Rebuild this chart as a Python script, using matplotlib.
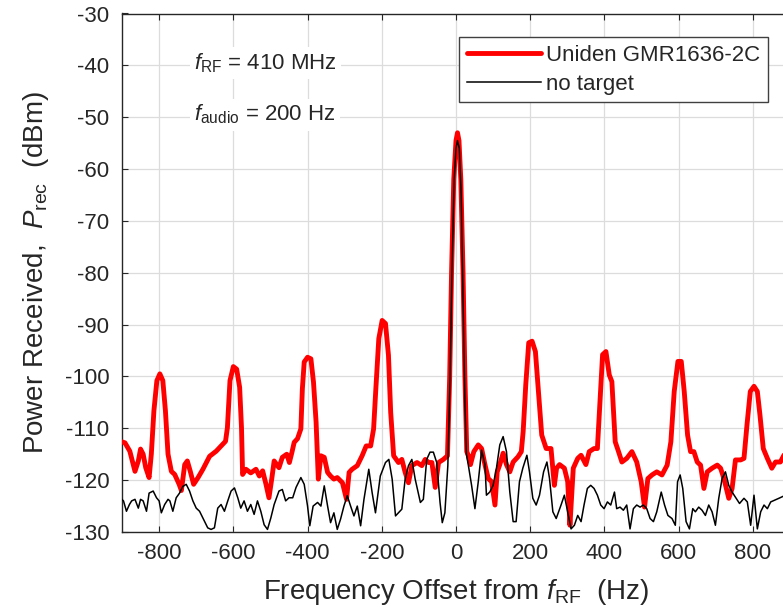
import matplotlib
matplotlib.use("Agg")
import matplotlib.pyplot as plt

plt.rcParams['font.family'] = ['Liberation Sans', 'DejaVu Sans']
plt.rcParams['mathtext.fontset'] = 'custom'
plt.rcParams['mathtext.rm'] = 'Liberation Sans'
plt.rcParams['mathtext.it'] = 'Liberation Sans:italic'
plt.rcParams['axes.unicode_minus'] = False

# Uniden GMR1636-2C (red)
red_freq = [-905, -892, -879, -865, -856, -850, -843, -836, -827, -821, -814, -806, -798, -790, -783,
            -776, -767, -758, -746, -740, -731, -724, -716, -707, -695, -682, -664, -646, -633, -621,
            -616, -609, -600, -591, -583, -578, -575, -566, -553, -539, -530, -521, -512, -504, -496,
            -490, -477, -468, -456, -449, -442, -436, -427, -418, -414, -409, -400, -391, -384, -377,
            -371, -364, -355, -346, -338, -329, -320, -306, -295, -288, -280, -266, -253, -242, -230,
            -222, -216, -208, -199, -190, -182, -176, -168, -155, -146, -137, -128, -119, -105, -92,
            -83, -74, -65, -56, -47, -34, -23, -17, -12, -6, 0, 4, 8, 13, 19,
            24, 29, 33, 39, 48, 60, 69, 78, 87, 96, 105, 111, 118, 127, 136,
            145, 154, 167, 176, 181, 188, 196, 205, 214, 222, 231, 243, 256, 265, 271,
            279, 292, 301, 307, 316, 328, 337, 350, 359, 372, 381, 387, 395, 404, 413,
            420, 429, 438, 447, 460, 474, 487, 499, 508, 517, 528, 541, 555, 569, 579,
            588, 598, 607, 615, 624, 632, 641, 650, 659, 668, 677, 690, 704, 713, 722,
            735, 744, 753, 767, 776, 784, 793, 803, 812, 819, 828, 839, 851, 861, 874,
            885, 900]
red_power = [-112.5, -112.8, -114.4, -118.3, -116.3, -114.0, -115.0, -117.6, -119.5, -115.0, -106.6, -100.8, -99.5, -100.8, -106.6,
             -115.0, -118.3, -118.9, -120.8, -122.0, -117.0, -116.3, -118.3, -120.8, -119.5, -117.9, -115.4, -114.4, -113.4, -112.5,
             -109.9, -100.8, -98.1, -98.6, -102.1, -109.9, -118.9, -117.9, -118.6, -117.9, -119.2, -118.2, -120.8, -123.4, -119.5,
             -116.3, -117.6, -115.6, -115.0, -116.6, -114.6, -112.7, -112.0, -110.1, -102.4, -97.2, -96.3, -96.6, -101.1, -108.8,
             -119.8, -115.3, -115.6, -118.5, -119.2, -119.8, -119.5, -120.5, -123.7, -118.5, -117.9, -117.2, -115.3, -113.4, -113.4,
             -110.1, -102.4, -92.7, -89.2, -89.8, -95.9, -106.9, -115.3, -116.6, -116.0, -118.5, -120.5, -117.2, -116.6, -117.2,
             -116.0, -116.6, -116.6, -121.4, -116.6, -116.0, -115.3, -100.0, -80.0, -62.0, -54.5, -53.0, -54.5, -62.0, -80.0,
             -100.0, -114.5, -115.2, -117.0, -114.5, -113.2, -113.9, -117.0, -119.7, -120.3, -124.8, -118.4, -117.0, -114.8, -117.0,
             -118.4, -116.5, -115.5, -114.5, -110.6, -101.6, -93.5, -93.2, -95.2, -102.9, -111.3, -113.9, -113.9, -121.0, -117.7,
             -117.0, -117.7, -120.3, -128.7, -117.7, -115.8, -115.2, -117.0, -114.5, -113.9, -113.9, -106.1, -95.8, -95.2, -99.7,
             -101.0, -112.6, -114.5, -116.5, -115.8, -114.5, -116.5, -120.3, -125.2, -119.7, -119.0, -118.4, -119.0, -117.1, -112.6,
             -102.9, -97.1, -97.1, -102.9, -111.3, -114.5, -114.5, -116.5, -117.1, -121.6, -118.4, -117.7, -117.1, -117.7, -119.7,
             -123.5, -121.6, -116.1, -116.1, -115.8, -109.4, -102.9, -101.9, -102.9, -107.4, -113.9, -115.8, -117.7, -116.5, -116.5,
             -115.0, -114.0]

# no target (black)
noise_freq = [-905, -896, -888, -880, -874, -865, -856, -850, -843, -834, -827, -816, -807, -800, -794,
              -785, -776, -771, -763, -754, -745, -736, -727, -718, -709, -700, -691, -678, -669, -660,
              -651, -642, -633, -624, -615, -606, -597, -588, -580, -571, -562, -553, -544, -535, -526,
              -517, -508, -499, -490, -477, -468, -459, -450, -440, -431, -418, -409, -400, -394, -385,
              -373, -364, -355, -346, -338, -329, -320, -311, -302, -293, -284, -275, -266, -257, -248,
              -235, -226, -217, -204, -190, -181, -172, -163, -155, -146, -137, -128, -119, -110, -96,
              -88, -79, -70, -61, -52, -43, -37, -30, -22, -16, -11, -5, 0, 4, 9,
              14, 19, 24, 28, 33, 42, 51, 60, 69, 78, 82, 91, 100, 109, 118,
              127, 136, 145, 154, 162, 171, 180, 191, 198, 207, 216, 225, 236, 245, 252,
              261, 270, 283, 292, 301, 310, 319, 328, 337, 345, 354, 363, 372, 381, 390,
              399, 408, 417, 427, 433, 442, 451, 460, 469, 478, 487, 496, 505, 514, 523,
              532, 541, 553, 562, 571, 582, 591, 597, 604, 611, 620, 629, 638, 645, 654,
              663, 672, 681, 690, 699, 708, 717, 726, 735, 744, 755, 764, 776, 785, 794,
              803, 812, 821, 830, 839, 848, 861, 870, 885, 900]
noise_power = [-123.4, -124.0, -126.0, -124.7, -124.0, -123.7, -125.4, -123.7, -124.0, -126.0, -122.5, -122.1, -123.4, -124.0, -126.3,
               -124.7, -123.7, -124.0, -126.0, -123.4, -122.5, -121.2, -120.8, -122.1, -124.0, -125.4, -126.0, -127.9, -129.2, -129.5,
               -129.2, -125.4, -124.7, -126.0, -124.0, -122.1, -121.5, -123.4, -125.4, -124.0, -126.0, -124.7, -126.6, -124.0, -126.0,
               -128.6, -129.5, -127.3, -124.7, -122.1, -121.8, -124.0, -123.4, -123.4, -121.4, -119.5, -120.8, -125.0, -128.8, -125.0,
               -124.3, -125.0, -121.1, -125.0, -128.2, -126.3, -129.5, -127.5, -125.0, -123.0, -125.0, -126.9, -125.0, -128.8, -123.7,
               -117.9, -122.4, -126.3, -119.2, -116.6, -116.0, -119.8, -126.9, -126.3, -125.6, -119.8, -117.2, -116.0, -119.8, -124.3,
               -123.7, -116.0, -114.6, -114.6, -116.6, -124.3, -128.2, -126.3, -117.2, -100.0, -80.0, -62.0, -56.0, -54.5, -56.0,
               -65.0, -85.0, -105.0, -115.0, -117.0, -121.0, -125.5, -120.3, -114.2, -117.0, -122.9, -122.3, -121.0, -117.7, -113.2,
               -111.6, -114.5, -122.3, -128.0, -128.0, -120.3, -117.7, -115.2, -118.4, -123.5, -124.8, -122.9, -118.4, -116.5, -119.7,
               -126.1, -127.4, -124.8, -122.9, -126.1, -129.4, -128.7, -126.8, -128.0, -124.8, -121.6, -121.0, -121.6, -122.9, -124.8,
               -125.5, -124.2, -124.8, -122.3, -125.5, -125.2, -125.8, -124.8, -129.4, -125.5, -124.8, -125.2, -124.8, -125.5, -127.4,
               -128.0, -126.1, -122.3, -124.8, -126.8, -127.4, -128.7, -120.3, -119.0, -121.6, -128.0, -129.4, -125.5, -126.1, -125.2,
               -125.8, -126.8, -124.8, -126.1, -128.7, -123.5, -119.7, -118.4, -121.0, -122.3, -123.5, -124.5, -123.5, -124.2, -128.7,
               -122.9, -129.4, -126.1, -124.8, -125.5, -124.2, -123.8, -123.5, -123.0, -122.5]

x_ticks = [-800, -600, -400, -200, 0, 200, 400, 600, 800]
y_ticks = list(range(-130, -29, 10))

fig = plt.figure(figsize=(7.83, 6.13), dpi=100)
# the original picture is cut off on the right, so the axes run past the figure edge
ax = fig.add_axes([122 / 783, 81 / 613, 668 / 783, 518.5 / 613])

ax.plot(red_freq, red_power, color='#ff0000', lw=3.5, label='Uniden GMR1636-2C', zorder=3,
        solid_joinstyle='round', solid_capstyle='round')
ax.plot(noise_freq, noise_power, color='black', lw=1.1, label='no target', zorder=4)

ax.set_xlim(-900, 900)
ax.set_ylim(-130, -30)
ax.set_xticks(x_ticks)
ax.set_yticks(y_ticks)
ax.grid(True, color='#dcdcdc', lw=0.9)
ax.set_axisbelow(True)

dark = '#262626'
for s in ax.spines.values():
    s.set_color(dark)
    s.set_linewidth(1.0)
ax.tick_params(direction='in', length=4, width=0.8, colors=dark, labelsize=16,
               top=True, right=True)
ax.tick_params(axis='y', pad=9)
ax.tick_params(axis='x', pad=8)

ax.set_xlabel(r'Frequency Offset from $\mathit{f}_{\mathrm{RF}}$  (Hz)', fontsize=20,
              color=dark, labelpad=9)
ax.set_ylabel(r'Power Received,  $\mathit{P}_{\mathrm{rec}}$  (dBm)', fontsize=20,
              color=dark, labelpad=10)

box = dict(facecolor='white', edgecolor='none', pad=3)
ax.text(-706, -40.7, r'$\mathit{f}_{\mathrm{RF}}$ = 410 MHz', fontsize=16, color=dark,
        va='baseline', bbox=box)
ax.text(-706, -50.7, r'$\mathit{f}_{\mathrm{audio}}$ = 200 Hz', fontsize=16, color=dark,
        va='baseline', bbox=box)

leg = ax.legend(loc='upper right', bbox_to_anchor=(768 / 783, 1 - 37 / 613),
                bbox_transform=fig.transFigure, fontsize=16, fancybox=False,
                framealpha=1, edgecolor='#404040', handlelength=3.3,
                handletextpad=0.25, labelspacing=0.35, borderpad=0.35,
                borderaxespad=0)
leg.get_frame().set_linewidth(1.0)
for t in leg.get_texts():
    t.set_color(dark)

fig.savefig('out.png', dpi=100)
